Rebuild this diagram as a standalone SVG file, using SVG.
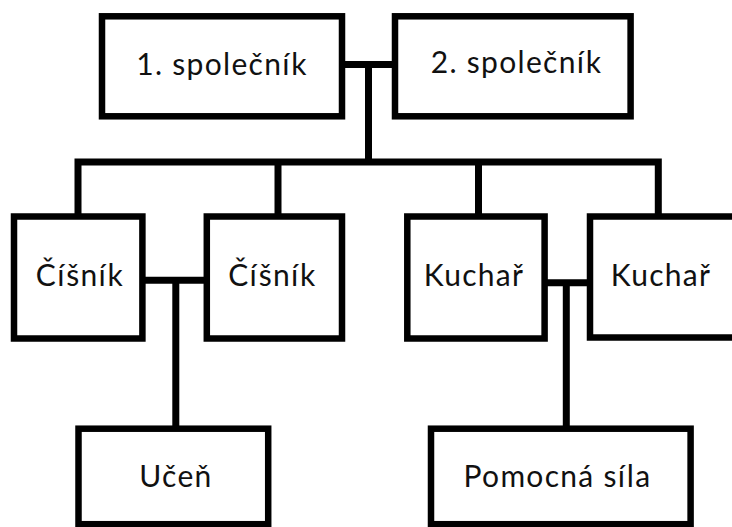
<svg xmlns="http://www.w3.org/2000/svg" width="732" height="527" viewBox="0 0 732 527">
<style>
.box{fill:#fff;stroke:#000;stroke-width:6.5}
.ln{fill:none;stroke:#000;stroke-width:7;stroke-linejoin:miter;stroke-linecap:butt}
.t{font-family:Lato,"Open Sans","DejaVu Sans",sans-serif;font-size:30px;letter-spacing:1.3px;fill:#111;text-anchor:middle}
</style>
<rect width="732" height="527" fill="#fff"/>
<g id="connectors">
<path class="ln" d="M342 64.5 H395"/>
<path class="ln" d="M368.5 64.5 V162"/>
<path class="ln" d="M78 216.5 V162 H658.3 V216.5"/>
<path class="ln" d="M278 162 V216.5"/>
<path class="ln" d="M478.5 162 V216.5"/>
<path class="ln" d="M142.4 280.3 H206.8"/>
<path class="ln" d="M175.8 280.3 V431"/>
<path class="ln" d="M544.6 282.7 H593"/>
<path class="ln" d="M566.3 282.7 V428.7"/>
</g>
<g id="n1"><rect class="box" x="102" y="16.3" width="240" height="100"/><text class="t" x="222" y="75">1. společník</text></g>
<g id="n2"><rect class="box" x="395" y="16.3" width="235.6" height="100"/><text class="t" x="516.5" y="73">2. společník</text></g>
<g id="n3"><rect class="box" x="14" y="216.5" width="128.4" height="122"/><text class="t" x="80" y="286">Číšník</text></g>
<g id="n4"><rect class="box" x="206.8" y="216.5" width="135.2" height="122"/><text class="t" x="272.4" y="286">Číšník</text></g>
<g id="n5"><rect class="box" x="407.3" y="216.5" width="137.3" height="122"/><text class="t" x="474" y="286">Kuchař</text></g>
<g id="n6"><rect class="box" x="590" y="216.5" width="160" height="121"/><text class="t" x="661" y="286">Kuchař</text></g>
<g id="n7"><rect class="box" x="78.5" y="428.7" width="189.7" height="95.5"/><text class="t" x="176" y="487">Učeň</text></g>
<g id="n8"><rect class="box" x="431" y="428.7" width="259.6" height="95.5"/><text class="t" x="557.5" y="487">Pomocná síla</text></g>
</svg>
